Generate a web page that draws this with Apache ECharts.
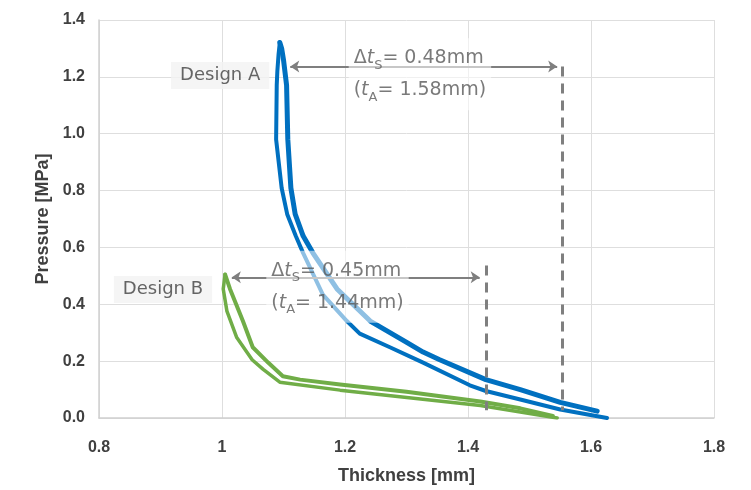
<!DOCTYPE html>
<html>
<head>
<meta charset="utf-8">
<script src="https://cdn.jsdelivr.net/npm/echarts@6/dist/echarts.min.js"></script>
<style>html,body{margin:0;padding:0;background:#fff}#c{width:751px;height:490px}</style>
</head>
<body>
<div id="c"></div>
<script>
// Tick labels
const xTickLabels = ['0.8', '1', '1.2', '1.4', '1.6', '1.8'];
const yTickLabels = ['0.0', '0.2', '0.4', '0.6', '0.8', '1.0', '1.2', '1.4'];

// Design A (blue): loading branch (bottom -> top) and unloading branch (top -> bottom)
const designA_loading = [
  [1.610, 0.024], [1.550, 0.055], [1.485, 0.100], [1.429, 0.135], [1.354, 0.205],
  [1.327, 0.232], [1.301, 0.265], [1.241, 0.341], [1.187, 0.454], [1.148, 0.580],
  [1.132, 0.640], [1.119, 0.717], [1.112, 0.809], [1.107, 0.980], [1.105, 1.171],
  [1.100, 1.260], [1.097, 1.300], [1.094, 1.321]
];
const designA_unloading = [
  [1.094, 1.321], [1.092, 1.280], [1.090, 1.220], [1.089, 1.171], [1.088, 0.980],
  [1.097, 0.809], [1.106, 0.717], [1.120, 0.640], [1.132, 0.580], [1.164, 0.434],
  [1.203, 0.341], [1.224, 0.297], [1.273, 0.249], [1.327, 0.195], [1.403, 0.115],
  [1.429, 0.095], [1.485, 0.065], [1.550, 0.030], [1.626, 0.000]
];

// Design B (green)
const designB_loading = [
  [1.538, 0.007], [1.485, 0.034], [1.420, 0.058], [1.300, 0.092], [1.192, 0.118],
  [1.127, 0.135], [1.099, 0.147], [1.075, 0.195], [1.050, 0.249], [1.034, 0.341],
  [1.013, 0.454], [1.005, 0.505]
];
const designB_unloading = [
  [1.005, 0.505], [1.002, 0.454], [1.008, 0.376], [1.024, 0.283], [1.049, 0.205],
  [1.067, 0.171], [1.094, 0.126], [1.192, 0.098], [1.420, 0.044], [1.545, 0.000]
];

// Annotation values (data units)
const arrowA = { from: 1.111, to: 1.545, p: 1.236 };
const dashA = { t: 1.553, top: 1.236, bottom: 0.027 };
const arrowB = { from: 1.016, to: 1.419, p: 0.495 };
const dashB = { t: 1.429, top: 0.536, bottom: 0.027 };
const labelDesignA = { name: 'Design A', at: [0.997, 1.205] };
const labelDesignB = { name: 'Design B', at: [0.904, 0.452] };
const textA = { ts: '0.48mm', ta: '1.58mm', at: [1.206, 1.209] };
const textB = { ts: '0.45mm', ta: '1.44mm', at: [1.072, 0.462] };

const BLUE = '#0070c0', GREEN = '#70ad47', GRAY = '#7f7f7f';
const chart = echarts.init(document.getElementById('c'));

function lineSeries(name, data, color, width) {
  return { name, type: 'line', data, showSymbol: false, symbol: 'none', z: 2,
    lineStyle: { color, width, join: 'round', cap: 'round' }, silent: true, animation: false };
}
const annotRich = {
  base: { fontFamily: 'DejaVu Sans', fontSize: 19, color: '#595959', lineHeight: 32 },
  it: { fontFamily: 'DejaVu Sans', fontSize: 19, fontStyle: 'italic', color: '#595959', lineHeight: 32 },
  sub: { fontFamily: 'DejaVu Sans', fontSize: 13, color: '#595959', lineHeight: 32, padding: [14, 0, 0, 0] }
};
function annotText(t) {
  return '{base|Δ}{it|t}{sub|S}{base|= ' + t.ts + '}\n{base|(}{it|t}{sub|A}{base|= ' + t.ta + ')}';
}

const option = {
  animation: false,
  backgroundColor: '#fff',
  grid: { left: 99, right: 37, top: 20, bottom: 60, containLabel: false },
  xAxis: {
    type: 'value', min: 0.8, max: 1.8, interval: 0.2,
    name: 'Thickness [mm]', nameLocation: 'middle', nameGap: 49,
    nameTextStyle: { fontFamily: 'Liberation Sans', fontWeight: 'bold', fontSize: 18, color: '#404040' },
    axisLine: { show: true, lineStyle: { color: '#d0d0d0', width: 1.5 } },
    axisTick: { show: false },
    splitLine: { show: true, lineStyle: { color: '#dedede', width: 1 } },
    axisLabel: { margin: 22, fontFamily: 'Liberation Sans', fontWeight: 'bold', fontSize: 16, color: '#404040',
      formatter: v => xTickLabels[Math.round((v - 0.8) / 0.2)] }
  },
  yAxis: {
    type: 'value', min: 0, max: 1.4, interval: 0.2,
    name: 'Pressure [MPa]', nameLocation: 'middle', nameGap: 47, nameRotate: 90,
    nameTextStyle: { fontFamily: 'Liberation Sans', fontWeight: 'bold', fontSize: 18, color: '#404040' },
    axisLine: { show: true, lineStyle: { color: '#d0d0d0', width: 1.5 } },
    axisTick: { show: false },
    splitLine: { show: true, lineStyle: { color: '#dedede', width: 1 } },
    axisLabel: { margin: 14, fontFamily: 'Liberation Sans', fontWeight: 'bold', fontSize: 16, color: '#404040',
      formatter: v => yTickLabels[Math.round(v / 0.2)] }
  },
  series: [
    lineSeries('Design A loading', designA_loading, BLUE, 5),
    lineSeries('Design A unloading', designA_unloading, BLUE, 4),
    lineSeries('Design B loading', designB_loading, GREEN, 4),
    lineSeries('Design B unloading', designB_unloading, GREEN, 3.5),
    {
      name: 'labels', type: 'scatter', z: 5, silent: true, symbolSize: 0,
      itemStyle: { color: 'rgba(0,0,0,0)' },
      data: [
        { value: labelDesignA.at, label: { show: true, position: 'inside', formatter: labelDesignA.name,
          backgroundColor: '#f2f2f2', padding: [5, 9, 4, 9], fontFamily: 'DejaVu Sans', fontSize: 18, color: '#404040' } },
        { value: labelDesignB.at, label: { show: true, position: 'inside', formatter: labelDesignB.name,
          backgroundColor: '#f2f2f2', padding: [5, 9, 4, 9], fontFamily: 'DejaVu Sans', fontSize: 18, color: '#404040' } },
        { value: textA.at, label: { show: true, position: 'right', distance: 0, formatter: annotText(textA),
          rich: annotRich, backgroundColor: 'rgba(255,255,255,0.7)', padding: [4, 5, 4, 5] } },
        { value: textB.at, label: { show: true, position: 'right', distance: 0, formatter: annotText(textB),
          rich: annotRich, backgroundColor: 'rgba(255,255,255,0.7)', padding: [4, 5, 4, 5] } }
      ]
    },
    {
      name: 'arrows', type: 'line', data: [], z: 10, silent: true,
      markLine: {
        silent: true, animation: false, symbol: ['arrow', 'arrow'], symbolSize: 9,
        label: { show: false }, emphasis: { disabled: true },
        lineStyle: { color: GRAY, width: 2, type: 'solid' },
        data: [
          [{ coord: [arrowA.from, arrowA.p] }, { coord: [arrowA.to, arrowA.p] }],
          [{ coord: [arrowB.from, arrowB.p] }, { coord: [arrowB.to, arrowB.p] }]
        ]
      }
    },
    {
      name: 'dashes', type: 'line', data: [], z: 10, silent: true,
      markLine: {
        silent: true, animation: false, symbol: ['none', 'none'],
        label: { show: false }, emphasis: { disabled: true },
        lineStyle: { color: GRAY, width: 3, type: [10, 7] },
        data: [
          [{ coord: [dashA.t, dashA.top] }, { coord: [dashA.t, dashA.bottom] }],
          [{ coord: [dashB.t, dashB.top] }, { coord: [dashB.t, dashB.bottom] }]
        ]
      }
    }
  ]
};
chart.setOption(option);
</script>
</body>
</html>
